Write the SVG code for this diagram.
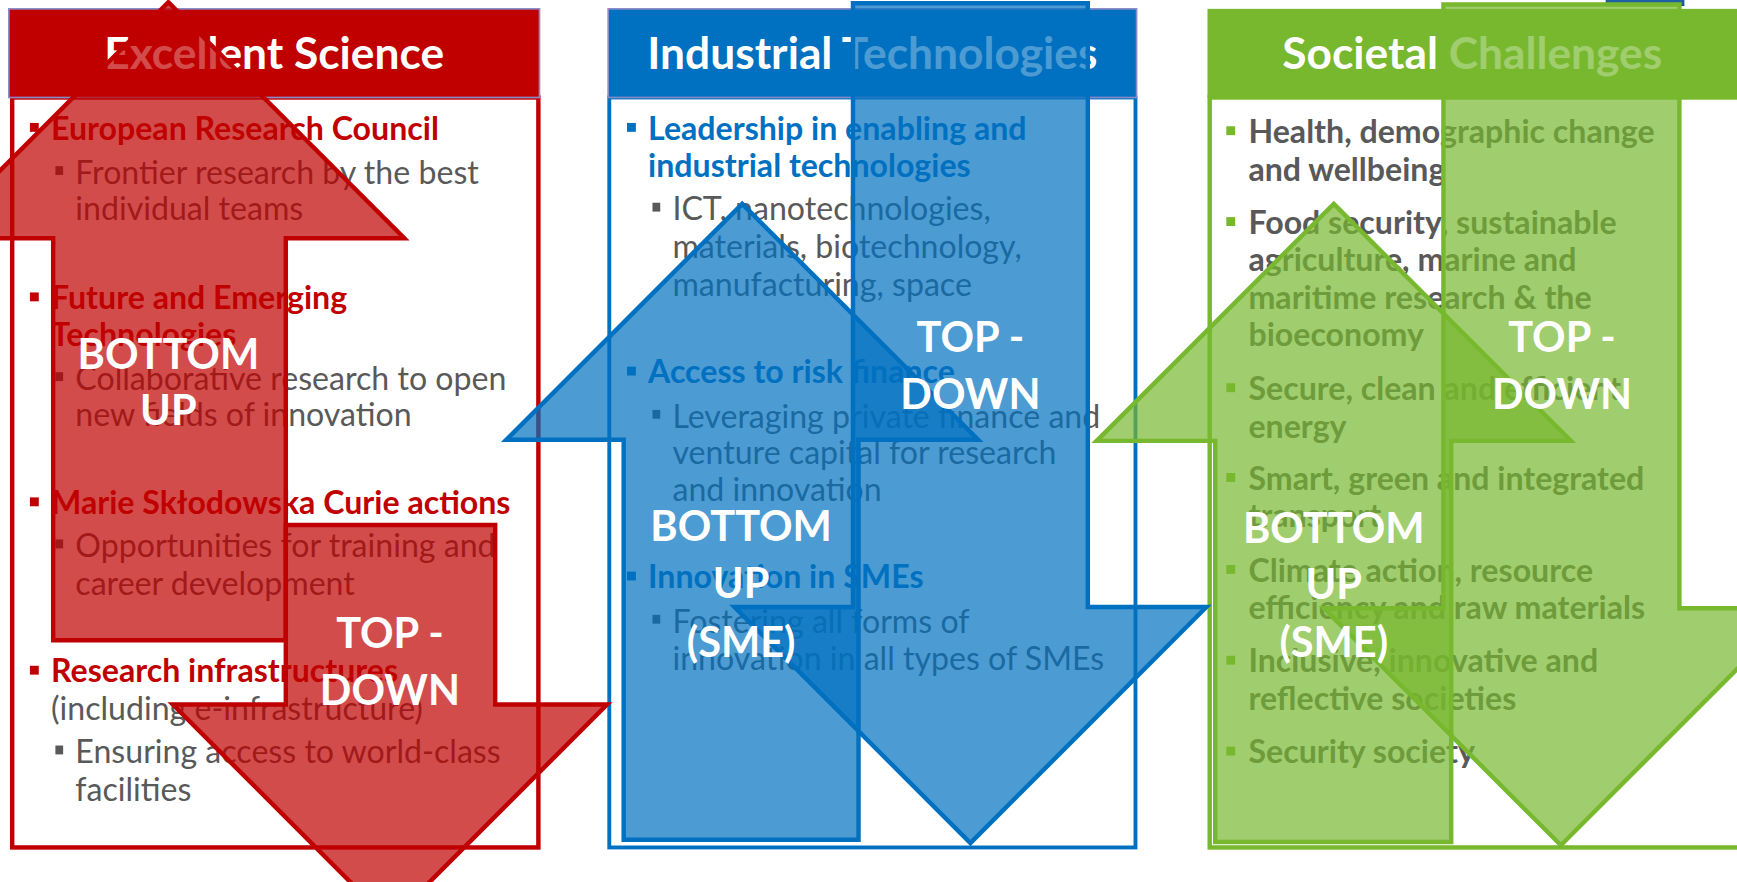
<svg xmlns="http://www.w3.org/2000/svg" width="1737" height="882" viewBox="0 0 1737 882">
<style>
.t{font-family:Lato,'Liberation Sans',sans-serif;font-size:29px;fill:#595959}
.b{font-weight:bold}
.r{fill:#C00000}
.bl{fill:#0070C0}
.hd{font-family:Lato,'Liberation Sans',sans-serif;font-size:40px;font-weight:bold;fill:#FFFFFF;text-anchor:middle}
.lb{font-family:Lato,'Liberation Sans',sans-serif;font-size:37.5px;font-weight:bold;fill:#FFFFFF;text-anchor:middle}
.hr{stroke:#8A8AC8;stroke-width:1.5}
.sq{fill:#595959}
.ar{stroke-width:4;stroke-linejoin:miter;fill-opacity:0.7}
</style>
<rect width="1737" height="882" fill="#FFFFFF"/>
<g transform="scale(1.10778)">
<g id="excellent-science">
<rect x="11" y="88" width="475" height="677" fill="#FFFFFF" stroke="#C00000" stroke-width="4"/>
<rect class="hr" x="8" y="8" width="479" height="80" fill="#C00000"/>
<text class="hd" x="247.5" y="62">Excellent Science</text>
<rect class="r" x="27" y="111" width="8" height="8"/>
<text class="t b r" x="46" y="126">European Research Council</text>
<rect class="sq" x="50" y="150" width="7" height="8"/>
<text class="t" x="68" y="166">Frontier research by the best</text>
<text class="t" x="68" y="199">individual teams</text>
<rect class="r" x="27" y="264" width="8" height="8"/>
<text class="t b r" x="46" y="279">Future and Emerging</text>
<text class="t b r" x="46" y="312">Technologies</text>
<rect class="sq" x="50" y="336" width="7" height="8"/>
<text class="t" x="68" y="352">Collaborative research to open</text>
<text class="t" x="68" y="385">new fields of innovation</text>
<rect class="r" x="27" y="449" width="8" height="8"/>
<text class="t b r" x="46" y="464">Marie Skłodowska Curie actions</text>
<rect class="sq" x="50" y="487" width="7" height="8"/>
<text class="t" x="68" y="503">Opportunities for training and</text>
<text class="t" x="68" y="537">career development</text>
<rect class="r" x="27" y="601" width="8" height="8"/>
<text class="t b r" x="46" y="616">Research infrastructures</text>
<text class="t" x="46" y="650">(including e-infrastructure)</text>
<rect class="sq" x="50" y="673" width="7" height="8"/>
<text class="t" x="68" y="689">Ensuring access to world-class</text>
<text class="t" x="68" y="723">facilities</text>
</g>
<g id="industrial-technologies">
<rect x="550" y="88" width="475" height="677" fill="#FFFFFF" stroke="#0070C0" stroke-width="3.5"/>
<rect class="hr" x="549" y="8" width="477" height="80" fill="#0070C0"/>
<text class="hd" x="787.5" y="62">Industrial Technologies</text>
<rect class="bl" x="566" y="111" width="8" height="8"/>
<text class="t b bl" x="585" y="126">Leadership in enabling and</text>
<text class="t b bl" x="585" y="160">industrial technologies</text>
<rect class="sq" x="589" y="183" width="7" height="8"/>
<text class="t" x="607" y="199">ICT, nanotechnologies,</text>
<text class="t" x="607" y="233">materials, biotechnology,</text>
<text class="t" x="607" y="267">manufacturing, space</text>
<rect class="bl" x="566" y="331" width="8" height="8"/>
<text class="t b bl" x="585" y="346">Access to risk finance</text>
<rect class="sq" x="589" y="370" width="7" height="8"/>
<text class="t" x="607" y="386">Leveraging private finance and</text>
<text class="t" x="607" y="419">venture capital for research</text>
<text class="t" x="607" y="452">and innovation</text>
<rect class="bl" x="566" y="516" width="8" height="8"/>
<text class="t b bl" x="585" y="531">Innovation in SMEs</text>
<rect class="sq" x="589" y="555" width="7" height="8"/>
<text class="t" x="607" y="571">Fostering all forms of</text>
<text class="t" x="607" y="605">innovation in all types of SMEs</text>
</g>
<g id="societal-challenges">
<rect x="1092" y="88" width="480" height="677" fill="#FFFFFF" stroke="#77B82F" stroke-width="4"/>
<rect x="1090" y="8" width="482" height="80" fill="#77B82F"/>
<text class="hd" x="1329" y="62">Societal Challenges</text>
<g fill="#77B82F">
<rect x="1107" y="114" width="8" height="8"/>
<rect x="1107" y="196" width="8" height="8"/>
<rect x="1107" y="346" width="8" height="8"/>
<rect x="1107" y="427" width="8" height="8"/>
<rect x="1107" y="510" width="8" height="8"/>
<rect x="1107" y="592" width="8" height="8"/>
<rect x="1107" y="674" width="8" height="8"/>
</g>
<text class="t b" x="1127" y="129">Health, demographic change</text>
<text class="t b" x="1127" y="163">and wellbeing</text>
<text class="t b" x="1127" y="211">Food security, sustainable</text>
<text class="t b" x="1127" y="245">agriculture, marine and</text>
<text class="t b" x="1127" y="279">maritime research &amp; the</text>
<text class="t b" x="1127" y="312">bioeconomy</text>
<text class="t b" x="1127" y="361">Secure, clean and efficient</text>
<text class="t b" x="1127" y="395">energy</text>
<text class="t b" x="1127" y="442">Smart, green and integrated</text>
<text class="t b" x="1127" y="476">transport</text>
<text class="t b" x="1127" y="525">Climate action, resource</text>
<text class="t b" x="1127" y="559">efficiency and raw materials</text>
<text class="t b" x="1127" y="607">Inclusive, innovative and</text>
<text class="t b" x="1127" y="641">reflective societies</text>
<text class="t b" x="1127" y="689">Security society</text>
</g>
<g id="corner-mark">
<rect x="1450" y="-4" width="70" height="9" fill="#1F5FA3" stroke="#174A80" stroke-width="1"/>
</g>
<g id="connectors">
<path id="red-bottom-up" class="ar" d="M152,2 L365,215 L258,215 L258,578 L48,578 L48,215 L-61,215 Z" fill="#C00000" stroke="#C00000"/>
<path id="red-top-down" class="ar" d="M258,474 L447,474 L447,636 L548,636 L352,832 L156,636 L258,636 Z" fill="#C00000" stroke="#C00000"/>
<path id="blue-bottom-up" class="ar" d="M670,184 L883,397 L775,397 L775,758 L563,758 L563,397 L457,397 Z" fill="#0070C0" stroke="#0070C0"/>
<path id="blue-top-down" class="ar" d="M770,3 L982,3 L982,548 L1089,548 L876,761 L663,548 L770,548 Z" fill="#0070C0" stroke="#0070C0"/>
<path id="green-bottom-up" class="ar" d="M1204,184 L1418,398 L1310,398 L1310,760 L1097,760 L1097,398 L990,398 Z" fill="#77B82F" stroke="#77B82F"/>
<path id="green-top-down" class="ar" d="M1303,4 L1516,4 L1516,549 L1623,549 L1409,763 L1195,549 L1303,549 Z" fill="#77B82F" stroke="#77B82F"/>
</g>
<g id="arrow-labels">
<text class="lb" x="152" y="333">BOTTOM</text>
<text class="lb" x="152" y="384">UP</text>
<text class="lb" x="352" y="585">TOP -</text>
<text class="lb" x="352" y="636">DOWN</text>
<text class="lb" x="669" y="488">BOTTOM</text>
<text class="lb" x="669" y="540">UP</text>
<text class="lb" x="669" y="593">(SME)</text>
<text class="lb" x="876" y="318">TOP -</text>
<text class="lb" x="876" y="369">DOWN</text>
<text class="lb" x="1204" y="490">BOTTOM</text>
<text class="lb" x="1204" y="541">UP</text>
<text class="lb" x="1204" y="593">(SME)</text>
<text class="lb" x="1410" y="318">TOP -</text>
<text class="lb" x="1410" y="369">DOWN</text>
</g>
</g>
</svg>
